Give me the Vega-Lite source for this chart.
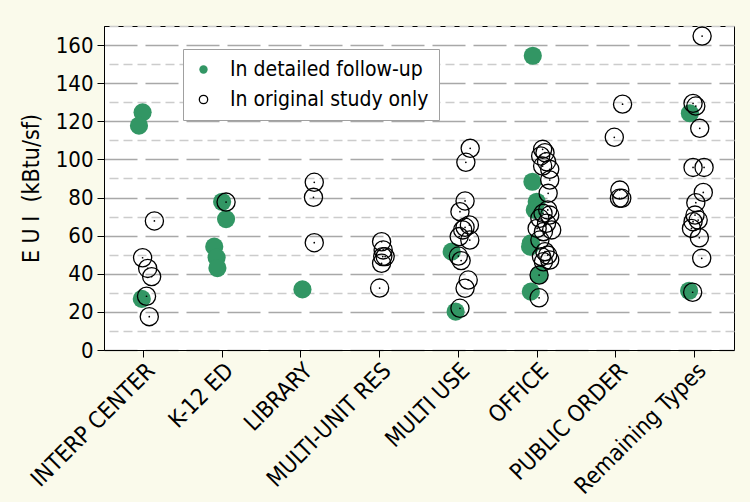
{
  "$schema": "https://vega.github.io/schema/vega-lite/v6.json",
  "width": 630,
  "height": 324,
  "autosize": "none",
  "padding": {"left": 104, "top": 26, "right": 16, "bottom": 152},
  "background": "#fafaeb",
  "config": {
    "font": "DejaVu Sans Condensed, Liberation Sans Narrow, DejaVu Sans",
    "view": {"stroke": "#000000", "strokeWidth": 1, "fill": "#ffffff"},
    "legend": {
      "orient": "none",
      "legendX": 79,
      "legendY": 23,
      "title": null,
      "labelFontSize": 21,
      "labelLimit": 400,
      "labelColor": "#000000",
      "symbolSize": 70,
      "symbolStrokeWidth": 1.3,
      "labelOffset": 16,
      "rowPadding": 8,
      "padding": 10,
      "fillColor": "#ffffff",
      "strokeColor": "#a0a0a0",
      "symbolType": "circle"
    }
  },
  "data": {
    "values": [
      {"type": "INTERP CENTER", "status": "In detailed follow-up", "eui": 124.7, "jitter": -0.01},
      {"type": "INTERP CENTER", "status": "In detailed follow-up", "eui": 117.7, "jitter": -0.056},
      {"type": "INTERP CENTER", "status": "In detailed follow-up", "eui": 26.8, "jitter": -0.02},
      {"type": "K-12 ED", "status": "In detailed follow-up", "eui": 77.8, "jitter": 0.0},
      {"type": "K-12 ED", "status": "In detailed follow-up", "eui": 68.7, "jitter": 0.05},
      {"type": "K-12 ED", "status": "In detailed follow-up", "eui": 54.2, "jitter": -0.1},
      {"type": "K-12 ED", "status": "In detailed follow-up", "eui": 48.5, "jitter": -0.07},
      {"type": "K-12 ED", "status": "In detailed follow-up", "eui": 43.0, "jitter": -0.06},
      {"type": "LIBRARY", "status": "In detailed follow-up", "eui": 31.8, "jitter": 0.02},
      {"type": "MULTI USE", "status": "In detailed follow-up", "eui": 51.6, "jitter": -0.085},
      {"type": "MULTI USE", "status": "In detailed follow-up", "eui": 20.1, "jitter": -0.035},
      {"type": "OFFICE", "status": "In detailed follow-up", "eui": 154.4, "jitter": -0.055},
      {"type": "OFFICE", "status": "In detailed follow-up", "eui": 88.3, "jitter": -0.06},
      {"type": "OFFICE", "status": "In detailed follow-up", "eui": 77.8, "jitter": -0.005},
      {"type": "OFFICE", "status": "In detailed follow-up", "eui": 73.5, "jitter": -0.03},
      {"type": "OFFICE", "status": "In detailed follow-up", "eui": 56.0, "jitter": -0.08},
      {"type": "OFFICE", "status": "In detailed follow-up", "eui": 54.2, "jitter": -0.09},
      {"type": "OFFICE", "status": "In detailed follow-up", "eui": 39.3, "jitter": 0.025},
      {"type": "OFFICE", "status": "In detailed follow-up", "eui": 30.6, "jitter": -0.08},
      {"type": "Remaining Types", "status": "In detailed follow-up", "eui": 124.2, "jitter": -0.06},
      {"type": "Remaining Types", "status": "In detailed follow-up", "eui": 31.1, "jitter": -0.07},
      {"type": "INTERP CENTER", "status": "In original study only", "eui": 67.7, "jitter": 0.14},
      {"type": "INTERP CENTER", "status": "In original study only", "eui": 48.4, "jitter": -0.01},
      {"type": "INTERP CENTER", "status": "In original study only", "eui": 42.8, "jitter": 0.055},
      {"type": "INTERP CENTER", "status": "In original study only", "eui": 38.5, "jitter": 0.105},
      {"type": "INTERP CENTER", "status": "In original study only", "eui": 28.2, "jitter": 0.04},
      {"type": "INTERP CENTER", "status": "In original study only", "eui": 17.5, "jitter": 0.075},
      {"type": "K-12 ED", "status": "In original study only", "eui": 77.6, "jitter": 0.05},
      {"type": "LIBRARY", "status": "In original study only", "eui": 88.0, "jitter": 0.17},
      {"type": "LIBRARY", "status": "In original study only", "eui": 80.1, "jitter": 0.16},
      {"type": "LIBRARY", "status": "In original study only", "eui": 56.3, "jitter": 0.17},
      {"type": "MULTI-UNIT RES", "status": "In original study only", "eui": 56.8, "jitter": 0.025},
      {"type": "MULTI-UNIT RES", "status": "In original study only", "eui": 52.5, "jitter": 0.045},
      {"type": "MULTI-UNIT RES", "status": "In original study only", "eui": 49.0, "jitter": 0.04},
      {"type": "MULTI-UNIT RES", "status": "In original study only", "eui": 49.0, "jitter": 0.07},
      {"type": "MULTI-UNIT RES", "status": "In original study only", "eui": 45.5, "jitter": 0.025},
      {"type": "MULTI-UNIT RES", "status": "In original study only", "eui": 32.5, "jitter": 0.0},
      {"type": "MULTI USE", "status": "In original study only", "eui": 105.8, "jitter": 0.15},
      {"type": "MULTI USE", "status": "In original study only", "eui": 98.5, "jitter": 0.095},
      {"type": "MULTI USE", "status": "In original study only", "eui": 78.2, "jitter": 0.085},
      {"type": "MULTI USE", "status": "In original study only", "eui": 72.6, "jitter": 0.02},
      {"type": "MULTI USE", "status": "In original study only", "eui": 65.6, "jitter": 0.14},
      {"type": "MULTI USE", "status": "In original study only", "eui": 64.4, "jitter": 0.085},
      {"type": "MULTI USE", "status": "In original study only", "eui": 63.0, "jitter": 0.055},
      {"type": "MULTI USE", "status": "In original study only", "eui": 59.5, "jitter": 0.01},
      {"type": "MULTI USE", "status": "In original study only", "eui": 57.7, "jitter": 0.145},
      {"type": "MULTI USE", "status": "In original study only", "eui": 49.3, "jitter": 0.0},
      {"type": "MULTI USE", "status": "In original study only", "eui": 46.9, "jitter": 0.035},
      {"type": "MULTI USE", "status": "In original study only", "eui": 36.7, "jitter": 0.125},
      {"type": "MULTI USE", "status": "In original study only", "eui": 32.4, "jitter": 0.085},
      {"type": "MULTI USE", "status": "In original study only", "eui": 21.9, "jitter": 0.02},
      {"type": "OFFICE", "status": "In original study only", "eui": 105.3, "jitter": 0.07},
      {"type": "OFFICE", "status": "In original study only", "eui": 103.5, "jitter": 0.1},
      {"type": "OFFICE", "status": "In original study only", "eui": 101.8, "jitter": 0.045},
      {"type": "OFFICE", "status": "In original study only", "eui": 98.8, "jitter": 0.12},
      {"type": "OFFICE", "status": "In original study only", "eui": 96.5, "jitter": 0.07},
      {"type": "OFFICE", "status": "In original study only", "eui": 94.8, "jitter": 0.16},
      {"type": "OFFICE", "status": "In original study only", "eui": 89.2, "jitter": 0.16},
      {"type": "OFFICE", "status": "In original study only", "eui": 82.2, "jitter": 0.14},
      {"type": "OFFICE", "status": "In original study only", "eui": 73.5, "jitter": 0.135},
      {"type": "OFFICE", "status": "In original study only", "eui": 71.7, "jitter": 0.075},
      {"type": "OFFICE", "status": "In original study only", "eui": 70.8, "jitter": 0.16},
      {"type": "OFFICE", "status": "In original study only", "eui": 69.1, "jitter": 0.035},
      {"type": "OFFICE", "status": "In original study only", "eui": 66.5, "jitter": 0.12},
      {"type": "OFFICE", "status": "In original study only", "eui": 63.8, "jitter": 0.0},
      {"type": "OFFICE", "status": "In original study only", "eui": 63.0, "jitter": 0.185},
      {"type": "OFFICE", "status": "In original study only", "eui": 62.1, "jitter": 0.08},
      {"type": "OFFICE", "status": "In original study only", "eui": 57.7, "jitter": 0.035},
      {"type": "OFFICE", "status": "In original study only", "eui": 51.6, "jitter": 0.1},
      {"type": "OFFICE", "status": "In original study only", "eui": 49.8, "jitter": 0.135},
      {"type": "OFFICE", "status": "In original study only", "eui": 49.0, "jitter": 0.055},
      {"type": "OFFICE", "status": "In original study only", "eui": 47.2, "jitter": 0.16},
      {"type": "OFFICE", "status": "In original study only", "eui": 46.3, "jitter": 0.08},
      {"type": "OFFICE", "status": "In original study only", "eui": 39.3, "jitter": 0.025},
      {"type": "OFFICE", "status": "In original study only", "eui": 27.4, "jitter": 0.025},
      {"type": "PUBLIC ORDER", "status": "In original study only", "eui": 129.0, "jitter": 0.085},
      {"type": "PUBLIC ORDER", "status": "In original study only", "eui": 111.6, "jitter": -0.02},
      {"type": "PUBLIC ORDER", "status": "In original study only", "eui": 83.9, "jitter": 0.05},
      {"type": "PUBLIC ORDER", "status": "In original study only", "eui": 79.6, "jitter": 0.045},
      {"type": "PUBLIC ORDER", "status": "In original study only", "eui": 79.6, "jitter": 0.075},
      {"type": "Remaining Types", "status": "In original study only", "eui": 164.7, "jitter": 0.095},
      {"type": "Remaining Types", "status": "In original study only", "eui": 129.4, "jitter": -0.02},
      {"type": "Remaining Types", "status": "In original study only", "eui": 128.0, "jitter": 0.015},
      {"type": "Remaining Types", "status": "In original study only", "eui": 116.3, "jitter": 0.065},
      {"type": "Remaining Types", "status": "In original study only", "eui": 95.8, "jitter": -0.02},
      {"type": "Remaining Types", "status": "In original study only", "eui": 95.8, "jitter": 0.12},
      {"type": "Remaining Types", "status": "In original study only", "eui": 82.7, "jitter": 0.11},
      {"type": "Remaining Types", "status": "In original study only", "eui": 77.3, "jitter": 0.015},
      {"type": "Remaining Types", "status": "In original study only", "eui": 70.8, "jitter": 0.005},
      {"type": "Remaining Types", "status": "In original study only", "eui": 68.2, "jitter": 0.045},
      {"type": "Remaining Types", "status": "In original study only", "eui": 67.3, "jitter": -0.02},
      {"type": "Remaining Types", "status": "In original study only", "eui": 63.8, "jitter": -0.04},
      {"type": "Remaining Types", "status": "In original study only", "eui": 58.9, "jitter": 0.06},
      {"type": "Remaining Types", "status": "In original study only", "eui": 48.1, "jitter": 0.09},
      {"type": "Remaining Types", "status": "In original study only", "eui": 30.3, "jitter": -0.025}
    ]
  },
  "resolve": {"axis": {"y": "independent"}},
  "layer": [
    {
      "mark": {"type": "circle", "size": 330, "opacity": 1, "strokeWidth": 1.3},
      "encoding": {
        "x": {
          "field": "type",
          "type": "nominal",
          "sort": ["INTERP CENTER", "K-12 ED", "LIBRARY", "MULTI-UNIT RES", "MULTI USE", "OFFICE", "PUBLIC ORDER", "Remaining Types"],
          "scale": {"paddingInner": 0, "paddingOuter": 0},
          "title": null,
          "axis": {
            "labelAngle": -45,
            "labelFontSize": 23,
            "labelColor": "#000000",
            "labelPadding": 2,
            "labelLimit": 300,
            "tickSize": 7,
            "tickColor": "#000000",
            "domainColor": "#000000",
            "grid": false
          }
        },
        "xOffset": {"field": "jitter", "type": "quantitative", "scale": {"domain": [-0.5, 0.5]}},
        "y": {
          "field": "eui",
          "type": "quantitative",
          "scale": {"domain": [0, 170], "nice": false},
          "title": "E U I\u00a0\u00a0(kBtu/sf)",
          "axis": {
            "values": [0, 20, 40, 60, 80, 100, 120, 140, 160],
            "labelFontSize": 22,
            "labelColor": "#000000",
            "labelPadding": 4,
            "tickSize": 7,
            "tickColor": "#000000",
            "domainColor": "#000000",
            "grid": true,
            "gridColor": "#a8a8a8",
            "gridWidth": 1.3,
            "gridDash": [33, 8],
            "titleFontSize": 23,
            "titleFontWeight": "normal",
            "titleColor": "#000000",
            "titlePadding": 12
          }
        },
        "fill": {
          "field": "status",
          "type": "nominal",
          "scale": {"domain": ["In detailed follow-up", "In original study only"], "range": ["#329664", "rgba(0,0,0,0)"]}
        },
        "stroke": {
          "field": "status",
          "type": "nominal",
          "scale": {"domain": ["In detailed follow-up", "In original study only"], "range": ["rgba(0,0,0,0)", "#000000"]}
        }
      }
    },
    {
      "transform": [{"filter": "datum.status === 'In original study only'"}],
      "mark": {"type": "circle", "size": 3, "opacity": 1, "color": "#000000"},
      "encoding": {
        "x": {
          "field": "type",
          "type": "nominal",
          "sort": ["INTERP CENTER", "K-12 ED", "LIBRARY", "MULTI-UNIT RES", "MULTI USE", "OFFICE", "PUBLIC ORDER", "Remaining Types"],
          "title": null
        },
        "xOffset": {"field": "jitter", "type": "quantitative"},
        "y": {
          "field": "eui",
          "type": "quantitative",
          "title": null,
          "axis": {
            "values": [10, 30, 50, 70, 90, 110, 130, 150, 170],
            "labels": false,
            "ticks": false,
            "domain": false,
            "grid": true,
            "gridColor": "#cccccc",
            "gridWidth": 1.3,
            "gridDash": [9, 5]
          }
        }
      }
    }
  ]
}
